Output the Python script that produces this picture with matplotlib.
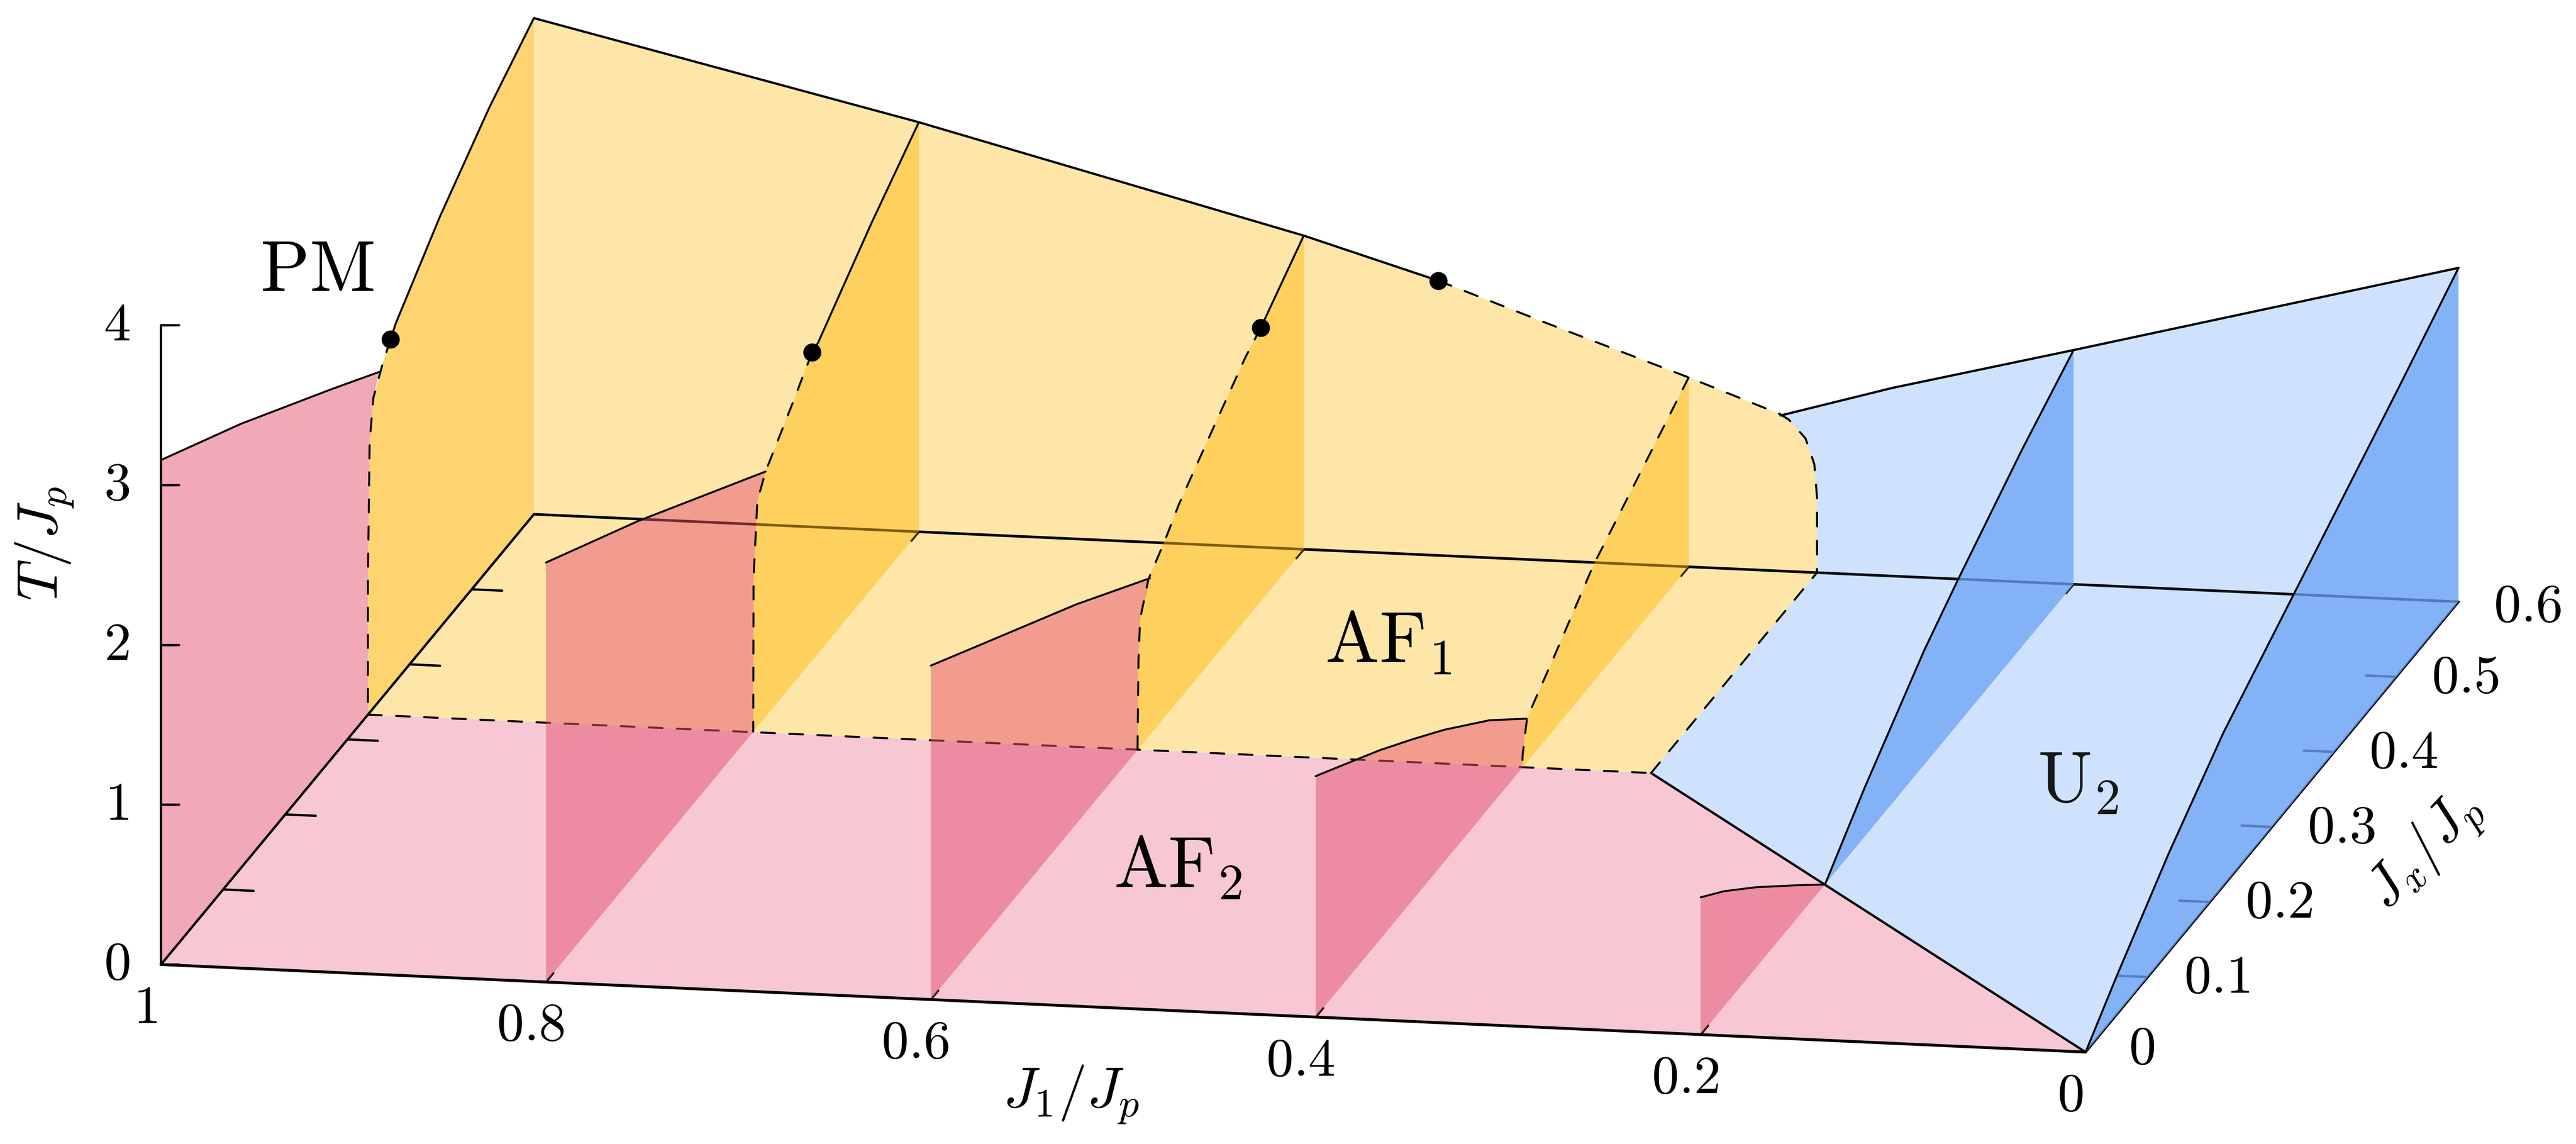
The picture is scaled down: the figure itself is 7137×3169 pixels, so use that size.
import matplotlib

matplotlib.use("Agg")
import matplotlib.pyplot as plt
import numpy as np

plt.rcParams["mathtext.fontset"] = "cm"

WIDTH, HEIGHT = 7137, 3169
DPI = 300

# slices of the phase diagram, J1/Jp fixed, boundary as (Jx/Jp, T/Jp)
slice_j1 = [1.0, 0.8, 0.6, 0.4]

af1_jx = {
    1.0: [0.6, 0.5287, 0.4486, 0.3775, 0.3693, 0.3569, 0.3418, 0.3357, 0.333, 0.333],
    0.8: [0.6, 0.5226, 0.438, 0.4282, 0.398, 0.3534, 0.3402, 0.3341, 0.3336],
    0.6: [0.6, 0.5308, 0.506, 0.4525, 0.3992, 0.377, 0.35, 0.3368, 0.3341, 0.3326],
    0.4: [0.6, 0.4467, 0.3843, 0.34, 0.3328, 0.3323],
}
af1_t = {
    1.0: [3.105, 2.884, 2.572, 2.237, 2.177, 2.087, 1.943, 1.694, 0.857, 0.0],
    0.8: [2.563, 2.285, 1.945, 1.929, 1.764, 1.535, 1.412, 0.961, 0.0],
    0.6: [1.963, 1.711, 1.642, 1.435, 1.225, 1.106, 0.986, 0.801, 0.562, 0.0],
    0.4: [1.185, 0.73, 0.458, 0.275, 0.076, 0.0],
}
# how many points of each boundary are solid, the rest is dashed
af1_solid = {1.0: 5, 0.8: 4, 0.6: 2, 0.4: 0}

af2_jx = {
    1.0: [0.0, 0.1285, 0.275, 0.351],
    0.8: [0.0, 0.1491, 0.3534],
    0.6: [0.0, 0.0698, 0.2347, 0.3526],
    0.4: [0.0, 0.0619, 0.1034, 0.1552, 0.207, 0.2797, 0.3391],
    0.2: [0.0, 0.0375, 0.0888, 0.1538, 0.2],
}
af2_t = {
    1.0: [3.157, 2.78, 2.31, 2.06],
    0.8: [2.625, 2.186, 1.535],
    0.6: [2.09, 1.876, 1.372, 0.981],
    0.4: [1.508, 1.315, 1.185, 1.009, 0.826, 0.544, 0.275],
    0.2: [0.859, 0.721, 0.505, 0.212, 0.0],
}

u2_jx = {
    0.2: [0.6, 0.5168, 0.4129, 0.36, 0.2638, 0.2],
    0.0: [0.6, 0.5062, 0.3307, 0.2218, 0.1338, 0.0502, 0.0],
}
u2_t = {
    0.2: [1.466, 1.232, 0.899, 0.717, 0.306, 0.0],
    0.0: [2.09, 1.8, 1.28, 0.958, 0.616, 0.2415, 0.0],
}

# back wall at Jx/Jp = 0.6
ridge_j1 = [1.0, 0.8, 0.6, 0.53, 0.4754, 0.4, 0.3526, 0.3478, 0.3393, 0.3347, 0.3333, 0.3333]
ridge_t = [3.105, 2.563, 1.963, 1.719, 1.491, 1.185, 0.982, 0.948, 0.837, 0.678, 0.47, 0.0]
ridge_solid = 4
u2_ridge_j1 = [0.3523, 0.294, 0.2, 0.0]
u2_ridge_t = [0.973, 1.178, 1.466, 2.09]

dot_j1 = [1.0, 0.8, 0.6, 0.53]
dot_jx = [0.3693, 0.4282, 0.5308, 0.6]
dot_t = [2.177, 1.929, 1.711, 1.719]

# phase boundaries on the floor
af_jx = 0.333
u2_j1 = 0.3333

t_ticks = [0, 1, 2, 3, 4]
j1_ticks = [1, 0.8, 0.6, 0.4, 0.2, 0]
j1_labels = ["1", "0.8", "0.6", "0.4", "0.2", "0"]
jx_ticks = [0, 0.1, 0.2, 0.3, 0.4, 0.5, 0.6]
jx_labels = ["0", "0.1", "0.2", "0.3", "0.4", "0.5", "0.6"]


def proj(j1, jx, t=0.0):
    """Oblique view of (J1, Jx, T), in units of the 1568 wide canvas."""
    j1, jx, t = np.asarray(j1, float), np.asarray(jx, float), np.asarray(t, float)
    x = 98 + (1 - j1) * 1171.5 + jx * 378.3
    y = 587 + (1 - j1) * 53.3 - jx * 456.7 - t * 97.25
    return x, y


def fill3(ax, j1, jx, t, color, alpha=1.0, z=1):
    x, y = proj(j1, jx, t)
    ax.fill(x, y, color=color, alpha=alpha, lw=0, zorder=z)


def line3(ax, j1, jx, t=0.0, lw=1.3, ls="-", z=3, color="black"):
    x, y = proj(j1, jx, t)
    x, y = np.broadcast_arrays(x, y)
    ax.plot(x, y, color=color, lw=lw, ls=ls, zorder=z, solid_capstyle="round",
            dash_capstyle="round", solid_joinstyle="round")


PALE_Y, PALE_P, PALE_B = "#FEE6A8", "#F7C7D3", "#CFE2FD"
SHEET_Y, SHEET_P, SHEET_B = "#FFBC16", "#E55371", "#6AA3F5"
WALL_Y = "#FED470"
DASH = (0, (6.75, 7.1))

fig = plt.figure(figsize=(WIDTH / DPI, HEIGHT / DPI), dpi=DPI)
ax = fig.add_axes([0, 0, 1, 1])
ax.set_xlim(0, 1568)
ax.set_ylim(HEIGHT / WIDTH * 1568, 0)
ax.axis("off")

# pale walls and floor
n = len(u2_ridge_j1)
fill3(ax, u2_ridge_j1 + [0.0, u2_j1], [0.6] * (n + 2), u2_ridge_t + [0.0, 0.0], PALE_B)
fill3(ax, ridge_j1 + [1.0], [0.6] * (len(ridge_j1) + 1), ridge_t + [0.0], PALE_Y)
fill3(ax, [1, 1, u2_j1, u2_j1], [af_jx, 0.6, 0.6, af_jx], 0.0, PALE_Y)
fill3(ax, [1, 1, u2_j1, 0], [0, af_jx, af_jx, 0], 0.0, PALE_P)
fill3(ax, [u2_j1, u2_j1, 0, 0], [af_jx, 0.6, 0.6, 0], 0.0, PALE_B)

# lines that are seen through the sheets
line3(ax, [1, 0], [0.6, 0.6], lw=1.75)
line3(ax, [0, 0], [0, 0.6], lw=1.6)
line3(ax, [1, u2_j1], [af_jx, af_jx], lw=1.35, ls=DASH)
line3(ax, [u2_j1, u2_j1], [af_jx, 0.6], lw=1.35, ls=DASH)
line3(ax, [u2_j1, 0], [af_jx, 0], lw=1.6)
for jx in jx_ticks:
    line3(ax, [0, 0.0158], [jx, jx], lw=1.6)
for j1 in j1_ticks[1:-1]:
    line3(ax, [j1, j1], [0.6, 0.588], lw=1.4)
    line3(ax, [j1, j1], [0, 0.012], lw=1.4)
# blue tints the lines a little
fill3(ax, [u2_j1, u2_j1, 0, 0], [af_jx, 0.6, 0.6, 0], 0.0, PALE_B, alpha=0.1, z=3.5)

# sheets
for j1 in slice_j1:
    jx, t = af1_jx[j1], af1_t[j1]
    if j1 == 1.0:
        fill3(ax, [j1] * (len(jx) + 1), jx + [0.6], t + [0.0], WALL_Y, z=4)
    else:
        fill3(ax, [j1] * (len(jx) + 1), jx + [0.6], t + [0.0], SHEET_Y, alpha=0.5, z=4)
for j1 in af2_jx:
    jx, t = list(af2_jx[j1]), list(af2_t[j1])
    if j1 in af1_jx:
        for a, b in zip(af1_jx[j1], af1_t[j1]):
            if b < t[-1]:
                jx.append(a)
                t.append(b)
    fill3(ax, [j1] * (len(jx) + 2), jx + [jx[-1], 0.0], t + [0.0, 0.0], SHEET_P, alpha=0.5, z=4)
for j1 in u2_jx:
    jx, t = u2_jx[j1], u2_t[j1]
    fill3(ax, [j1] * (len(jx) + 1), jx + [0.6], t + [0.0], SHEET_B, alpha=0.75, z=4)

# boundaries on the sheets
for j1 in slice_j1:
    jx, t = af1_jx[j1], af1_t[j1]
    k = af1_solid[j1]
    if k:
        line3(ax, j1, jx[:k], t[:k], lw=1.3, z=5)
    s = max(k - 1, 0)
    line3(ax, j1, jx[s:], t[s:], lw=1.3, ls=DASH, z=5)
for j1 in af2_jx:
    line3(ax, j1, af2_jx[j1], af2_t[j1], lw=1.3, z=5)
for j1 in u2_jx:
    line3(ax, j1, u2_jx[j1], u2_t[j1], lw=1.3, z=5)

# top of the back wall
line3(ax, ridge_j1[:ridge_solid], 0.6, ridge_t[:ridge_solid], lw=1.5, z=5)
line3(ax, ridge_j1[ridge_solid - 1:], 0.6, ridge_t[ridge_solid - 1:], lw=1.35, ls=DASH, z=5)
line3(ax, u2_ridge_j1, 0.6, u2_ridge_t, lw=1.5, z=5)

# axes on top
line3(ax, [1, 0], [0, 0], lw=1.9, z=6)
line3(ax, [1, 1], [0, 0.6], lw=1.6, z=6)
line3(ax, [1, 1], [0, 0], [0, 4], lw=1.55, z=6)
for t in t_ticks:
    x, y = proj(1, 0, t)
    ax.plot([x, x + 11], [y, y], color="black", lw=1.55, zorder=6, solid_capstyle="round")
for jx in jx_ticks[1:-1]:
    line3(ax, [1, 1 - 0.0158], [jx, jx], lw=1.55, z=6)

x, y = proj(dot_j1, dot_jx, dot_t)
ax.plot(x, y, "o", color="black", ms=12, mew=0, zorder=7)

# labels
FS_TICK, FS_AXIS, FS_PHASE = 36, 38, 48
for t in t_ticks:
    x, y = proj(1, 0, t)
    ax.text(x - 27, y, f"${t}$", fontsize=FS_TICK, ha="center", va="center")
for j1, lab in zip(j1_ticks, j1_labels):
    x, y = proj(j1, 0)
    ax.text(x - 9.5, y + 26.5, f"${lab}$", fontsize=FS_TICK, ha="center", va="center")
for jx, lab in zip(jx_ticks, jx_labels):
    x, y = proj(0, jx)
    dx = 34 if lab == "0" else 42
    dy = {"0": -2, "0.6": 3}.get(lab, 0.5)
    ax.text(x + dx, y + dy, f"${lab}$", fontsize=FS_TICK, ha="center", va="center")

ax.text(27, 331, r"$T/J_p$", fontsize=FS_AXIS, rotation=90, ha="center", va="center")
ax.text(652, 666, r"$J_1/J_p$", fontsize=FS_AXIS, ha="center", va="center")
ax.text(1476, 518.5, r"$J_x/J_p$", fontsize=FS_AXIS, rotation=47, ha="center", va="center")

ax.text(193, 165, r"$\mathrm{PM}$", fontsize=FS_PHASE, ha="center", va="center")
ax.text(845, 391, r"$\mathrm{AF}_1$", fontsize=FS_PHASE, ha="center", va="center")
ax.text(717, 528, r"$\mathrm{AF}_2$", fontsize=FS_PHASE, ha="center", va="center")
ax.text(1265, 476, r"$\mathrm{U}_2$", fontsize=FS_PHASE, ha="center", va="center")

fig.savefig("out.png", dpi=DPI)
plt.close(fig)
